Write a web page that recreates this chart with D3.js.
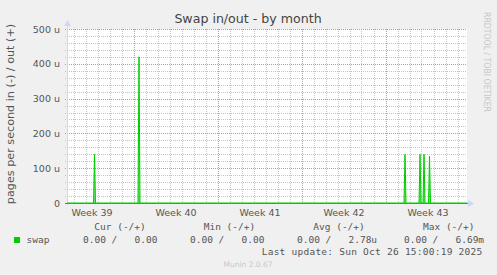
<!DOCTYPE html>
<html>
<head>
<meta charset="utf-8">
<script src="https://cdn.jsdelivr.net/npm/d3@7"></script>
<style>
  html, body { margin: 0; padding: 0; background: #f0f0f0; }
  svg { display: block; }
  text { fill: #555; }
  .mono { font-family: "DejaVu Sans Mono", monospace; font-size: 9.5px; white-space: pre; }
</style>
</head>
<body>
<div id="chart"></div>
<script>
// swap spikes (pages per second, in micro units), everything else sits at 0
let spikeTimes = ["2025-09-25T18:00Z", "2025-09-29T11:00Z", "2025-10-21T15:00Z",
                  "2025-10-22T21:00Z", "2025-10-23T05:00Z", "2025-10-23T16:00Z"];
let spikeValues = [140, 420, 140, 140, 140, 135];

let weekLabels = ["Week 39", "Week 40", "Week 41", "Week 42", "Week 43"];
let weekStarts = ["2025-09-22", "2025-09-29", "2025-10-06", "2025-10-13", "2025-10-20"];

let yTicks = [0, 100, 200, 300, 400, 500];
let yTickLabels = ["0", "100 u", "200 u", "300 u", "400 u", "500 u"];

let legendHeads = ["Cur (-/+)", "Min (-/+)", "Avg (-/+)", "Max (-/+)"];
let legendVals = ["0.00 /   0.00", "0.00 /   0.00", "0.00 /   2.78u", "0.00 /   6.69m"];

const W = 497, H = 275;
const pL = 67, pR = 467, pT = 29, pB = 203;
const step = 2 * 3600 * 1000; // 2h per sample
const tEnd = new Date("2025-10-26T19:00Z");
const tStart = new Date(tEnd - 400 * step);

let svg = d3.select("#chart").append("svg")
  .attr("width", W).attr("height", H);

svg.append("rect").attr("width", W).attr("height", H).attr("fill", "#f0f0f0");
svg.append("rect")
  .attr("x", pL).attr("y", pT)
  .attr("width", pR - pL).attr("height", pB - pT)
  .attr("fill", "#fff");

let x = d3.scaleUtc().domain([tStart, tEnd]).range([pL, pR]);
let y = d3.scaleLinear().domain([0, 500]).range([pB, pT]);

// grid: minor
let dayTicks = d3.utcDay.range(tStart, tEnd);
let mondays = d3.utcMonday.range(tStart, tEnd);
svg.append("g").selectAll("line").data(dayTicks).join("line")
  .attr("x1", d => Math.round(x(d)) + 0.5).attr("x2", d => Math.round(x(d)) + 0.5)
  .attr("y1", pT).attr("y2", pB + 2)
  .attr("stroke", "#c4c4c4").attr("stroke-dasharray", "1,1");
svg.append("g").selectAll("line").data(d3.range(0, 501, 20)).join("line")
  .attr("x1", pL - 2).attr("x2", pR)
  .attr("y1", d => Math.round(y(d)) + 0.5).attr("y2", d => Math.round(y(d)) + 0.5)
  .attr("stroke", "#c4c4c4").attr("stroke-dasharray", "1,1");
// grid: major
svg.append("g").selectAll("line").data(mondays).join("line")
  .attr("x1", d => Math.round(x(d)) + 0.5).attr("x2", d => Math.round(x(d)) + 0.5)
  .attr("y1", pT).attr("y2", pB + 2)
  .attr("stroke", "#e08a8a").attr("stroke-dasharray", "1,1");
svg.append("g").selectAll("line").data(yTicks).join("line")
  .attr("x1", pL - 2).attr("x2", pR)
  .attr("y1", d => Math.round(y(d)) + 0.5).attr("y2", d => Math.round(y(d)) + 0.5)
  .attr("stroke", "#e08a8a").attr("stroke-dasharray", "1,1");

// y axis labels
let yAxis = d3.axisLeft(y).tickValues(yTicks)
  .tickFormat((d, i) => yTickLabels[i]).tickSize(0).tickPadding(7);
let gy = svg.append("g").attr("transform", `translate(${pL},0)`).call(yAxis);
gy.select(".domain").remove();
gy.selectAll("text").attr("font-family", "DejaVu Sans").attr("font-size", 9.5).attr("fill", "#555");

// x axis labels at mid-week
let mids = weekStarts.map(s => new Date(+new Date(s + "T00:00Z") + 3.5 * 86400000));
let xAxis = d3.axisBottom(x).tickValues(mids)
  .tickFormat((d, i) => weekLabels[i]).tickSize(0).tickPadding(6);
let gx = svg.append("g").attr("transform", `translate(0,${pB})`).call(xAxis);
gx.select(".domain").remove();
gx.selectAll("text").attr("font-family", "DejaVu Sans").attr("font-size", 9.5).attr("fill", "#555");

// series: zeros around each spike
let series = [{ t: tStart, v: 0 }];
spikeTimes.forEach((s, i) => {
  let t = new Date(s);
  series.push({ t: new Date(+t - step), v: 0 });
  series.push({ t: t, v: spikeValues[i] });
  series.push({ t: new Date(+t + step), v: 0 });
});
series.push({ t: tEnd, v: 0 });

// axes lines
svg.append("line").attr("x1", pL + 0.5).attr("x2", pL + 0.5)
  .attr("y1", pB + 2).attr("y2", pT - 4).attr("stroke", "#cfd6f8");
svg.append("path").attr("d", `M${pL - 3},${pT - 3} L${pL + 4},${pT - 3} L${pL + 0.5},${pT - 9} Z`)
  .attr("fill", "#cfd6f8");
svg.append("line").attr("x1", pL - 2).attr("x2", pR + 3)
  .attr("y1", pB + 0.5).attr("y2", pB + 0.5).attr("stroke", "#777");
svg.append("path").attr("d", `M${pR + 1},${pB - 3} L${pR + 1},${pB + 4} L${pR + 7},${pB + 0.5} Z`)
  .attr("fill", "#cfd6f8");

svg.append("path").datum(series)
  .attr("d", d3.area().x(d => x(d.t)).y0(y(0)).y1(d => y(d.v)))
  .attr("fill", "#00cc00").attr("fill-opacity", 0.55);
svg.append("path").datum(series)
  .attr("d", d3.line().x(d => x(d.t)).y(d => y(d.v)))
  .attr("fill", "none").attr("stroke", "#00cc00").attr("stroke-width", 1);
svg.append("line").attr("x1", pL).attr("x2", pR)
  .attr("y1", pB + 0.5).attr("y2", pB + 0.5).attr("stroke", "#777").attr("stroke-opacity", 0.6);

// titles
svg.append("text").attr("x", 248).attr("y", 23).attr("text-anchor", "middle")
  .attr("font-family", "DejaVu Sans").attr("font-size", 12.6).style("fill", "#444")
  .text("Swap in/out - by month");
svg.append("text").attr("transform", "translate(14,114) rotate(-90)").attr("text-anchor", "middle")
  .attr("font-family", "DejaVu Sans").attr("font-size", 11.2).style("fill", "#555")
  .text("pages per second in (-) / out (+)");
svg.append("text").attr("transform", "translate(484,62) rotate(90)").attr("text-anchor", "middle")
  .attr("font-family", "DejaVu Sans").attr("font-size", 8).attr("textLength", 100)
  .attr("lengthAdjust", "spacingAndGlyphs").style("fill", "#c8c8c8")
  .text("RRDTOOL / TOBI OETIKER");

// legend
svg.append("rect").attr("x", 14).attr("y", 237).attr("width", 6).attr("height", 6).attr("fill", "#00cc00");
svg.append("text").attr("class", "mono").attr("x", 26.5).attr("y", 242.5).text("swap");
let headX = [94.3, 203.7, 313.3, 423];
let valX = [83, 190, 297, 404];
legendHeads.forEach((h, i) => {
  svg.append("text").attr("class", "mono").attr("x", headX[i]).attr("y", 229.5).text(h);
  svg.append("text").attr("class", "mono").attr("x", valX[i]).attr("y", 242.5).text(legendVals[i]);
});
svg.append("text").attr("class", "mono").attr("x", 261.7).attr("y", 254.5)
  .attr("textLength", 220.5).attr("lengthAdjust", "spacing")
  .text("Last update: Sun Oct 26 15:00:19 2025");
svg.append("text").attr("x", 248).attr("y", 267).attr("text-anchor", "middle")
  .attr("font-family", "DejaVu Sans").attr("font-size", 7.5).style("fill", "#c8c8c8")
  .text("Munin 2.0.67");
</script>
</body>
</html>
